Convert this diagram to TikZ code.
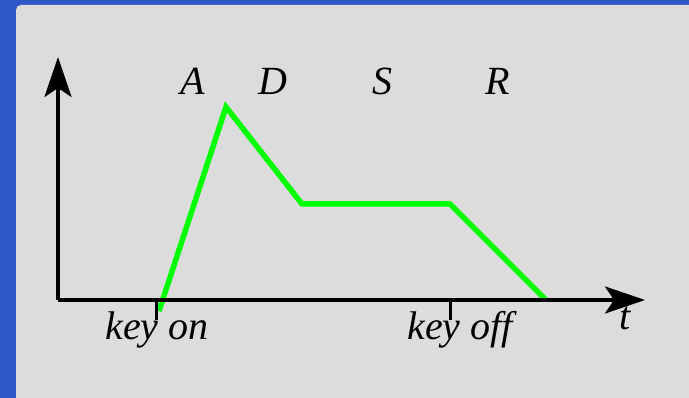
\documentclass[tikz,border=0pt]{standalone}
\usepackage{fontspec}
\setmainfont{Liberation Serif}
\usetikzlibrary{
  arrows.meta,
  positioning
}
\definecolor{envFrame}{HTML}{2F58C6}
\definecolor{envPanel}{HTML}{DCDCDC}
\definecolor{envCurve}{HTML}{00FF00}
\tikzset{
  axis/.style={-{Stealth[length=40pt, width=27pt, inset=9pt]}, line width=3.5pt, black},
  envline/.style={line width=5.5pt, envCurve, line join=miter},
  keytick/.style={line width=3pt, black},
  stage/.style={font=\fontsize{40}{40}\selectfont\itshape, inner sep=0pt, anchor=base},
  keylabel/.style={stage}
}

\begin{document}
\begin{tikzpicture}[x=1pt, y=-1pt]
  % frame and panel
  \fill[envFrame] (0,0) rectangle (689,398);
  \fill[envPanel] (689,398) -- (16,398) [rounded corners=5pt] -- (16,5) [sharp corners] -- (689,5) -- cycle;
  \useasboundingbox (0,0) rectangle (689,398);

  % envelope
  \coordinate (on) at (159,311);
  \coordinate (peak) at (226,107);
  \coordinate (decay) at (302,204);
  \coordinate (release) at (450,204);
  \coordinate (off) at (546,300);
  \draw[envline] (on) -- (peak) -- (decay) -- (release) -- (off);

  % axes
  \coordinate (origin) at (58,300);
  \coordinate (ytop) at (58,57);
  \coordinate (xend) at (645,300);
  \draw[axis] (origin) -- (ytop);
  \draw[axis] (origin) -- (xend);

  % key ticks
  \coordinate (ontick) at (156,300);
  \coordinate (offtick) at (450,300);
  \coordinate (onend) at (156,320);
  \coordinate (offend) at (450,320);
  \draw[keytick] (ontick) -- (onend);
  \draw[keytick] (offtick) -- (offend);

  % labels
  \node[stage] (lblA) at (193,95) {A};
  \node[stage] (lblD) at (273,95) {D};
  \node[stage] (lblS) at (382,95) {S};
  \node[stage] (lblR) at (498,95) {R};
  \node[keylabel] (keyon) at (157,340) {key on};
  \node[keylabel] (keyoff) at (460,340) {key off};
  \node[keylabel] (tlabel) at (625,330) {t};
\end{tikzpicture}
\end{document}
